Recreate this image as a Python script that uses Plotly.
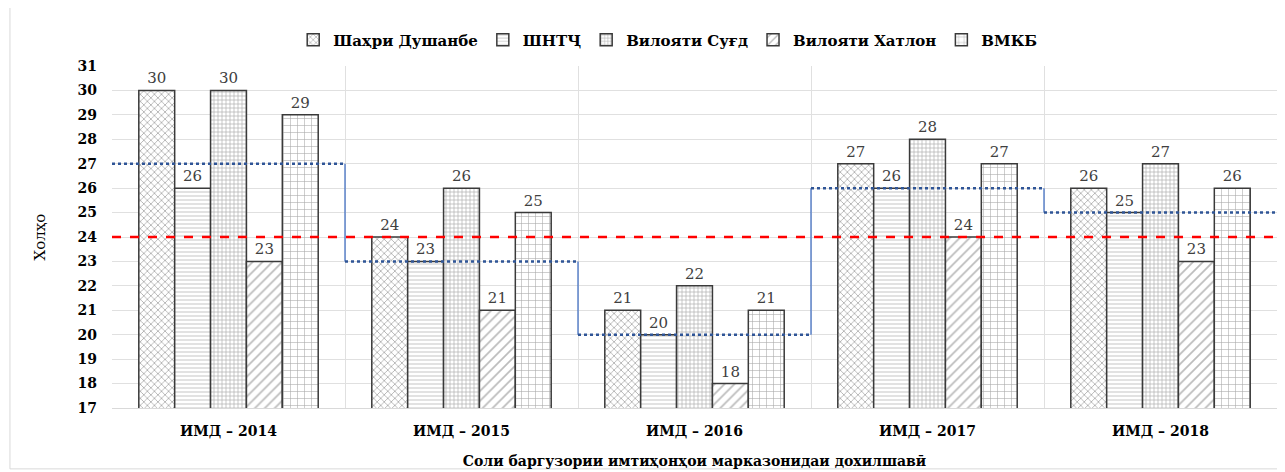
import plotly.graph_objects as go

years = ["ИМД – 2014", "ИМД – 2015", "ИМД – 2016", "ИМД – 2017", "ИМД – 2018"]
series_names = ["Шаҳри Душанбе", "ШНТҶ", "Вилояти Суғд", "Вилояти Хатлон", "ВМКБ"]
dushanbe = [30, 24, 21, 27, 26]
shntj = [26, 23, 20, 26, 25]
sugd = [30, 26, 22, 28, 27]
khatlon = [23, 21, 18, 24, 23]
vmkb = [29, 25, 21, 27, 26]
average = [27, 23, 20, 26, 25]
threshold = 24
y_ticks = list(range(17, 32))

series_values = [dushanbe, shntj, sugd, khatlon, vmkb]
patterns = [
    dict(shape="x", size=5, solidity=0.3, fgcolor="#5a5a5a"),
    dict(shape="-", size=4, solidity=0.25, fgcolor="#8a8a8a"),
    dict(shape="+", size=4, solidity=0.3, fgcolor="#555555"),
    dict(shape="/", size=7, solidity=0.25, fgcolor="#7a7a7a"),
    dict(shape="+", size=7, solidity=0.16, fgcolor="#555555"),
]

serif = "DejaVu Serif"
xs = list(range(len(years)))

fig = go.Figure()
for name, vals, pat in zip(series_names, series_values, patterns):
    fig.add_trace(go.Bar(
        x=xs, y=vals, name=name,
        marker=dict(color="white", line=dict(color="#3a3a3a", width=1.5),
                    pattern=dict(bgcolor="white", **pat)),
        text=[str(v) for v in vals], textposition="outside",
        textfont=dict(family=serif, size=15, color="#404040"),
        cliponaxis=False,
    ))

# average step line: dotted horizontals, solid verticals
hx, hy, vx, vy = [], [], [], []
for i, a in enumerate(average):
    hx += [i - 0.5, i + 0.5, None]
    hy += [a, a, None]
    if i > 0:
        vx += [i - 0.5, i - 0.5, None]
        vy += [average[i - 1], a, None]
fig.add_trace(go.Scatter(x=vx, y=vy, mode="lines", showlegend=False,
                         line=dict(color="#4472C4", width=1.3), hoverinfo="skip"))
fig.add_trace(go.Scatter(x=hx, y=hy, mode="lines", showlegend=False,
                         line=dict(color="#2F5597", width=2.5, dash="dot"), hoverinfo="skip"))
fig.add_trace(go.Scatter(x=[-0.5, len(years) - 0.5], y=[threshold, threshold], mode="lines",
                         showlegend=False, line=dict(color="#FF0000", width=2.5, dash="dash"),
                         hoverinfo="skip"))

boundaries = [i + 0.5 for i in xs]
fig.update_layout(
    width=1277, height=464,
    margin=dict(l=104, r=8, t=58, b=64, autoexpand=False),
    paper_bgcolor="white", plot_bgcolor="white",
    barmode="group", bargap=0.23, bargroupgap=0,
    font=dict(family=serif, color="#000000"),
    legend=dict(orientation="h", x=0.477, xanchor="center", y=1.076, yanchor="middle",
                font=dict(family=serif, size=15, color="#000000", weight="bold"),
                itemwidth=30, traceorder="normal"),
    xaxis=dict(range=[-0.5, len(years) - 0.5], tickmode="array", tickvals=xs, ticktext=years,
               showgrid=False, ticks="", zeroline=False, ticklabelstandoff=10, automargin=False,
               tickfont=dict(family=serif, size=14, weight="bold", color="#000000"),
               showline=True, linecolor="#d9d9d9",
               minor=dict(tickmode="array", tickvals=boundaries, showgrid=True,
                          gridcolor="#e0e0e0", gridwidth=1, ticks=""),
               title=dict(text="Соли баргузории имтиҳонҳои марказонидаи дохилшавӣ",
                          font=dict(family=serif, size=14, weight="bold", color="#000000"),
                          standoff=18)),
    yaxis=dict(range=[17, 31], tickmode="array", tickvals=y_ticks, showgrid=True,
               gridcolor="#e0e0e0", zeroline=False, ticks="", ticklabelstandoff=14, automargin=False,
               tickfont=dict(family=serif, size=14, weight="bold", color="#000000"),
               title=dict(text="Холҳо", font=dict(family=serif, size=15, color="#000000"),
                          standoff=28)),
    shapes=[dict(type="rect", xref="paper", yref="paper", x0=-0.0876, x1=1.004, y0=-0.178, y1=1.184,
                 line=dict(color="#d9d9d9", width=1))],
)

fig.write_html("out.html")
